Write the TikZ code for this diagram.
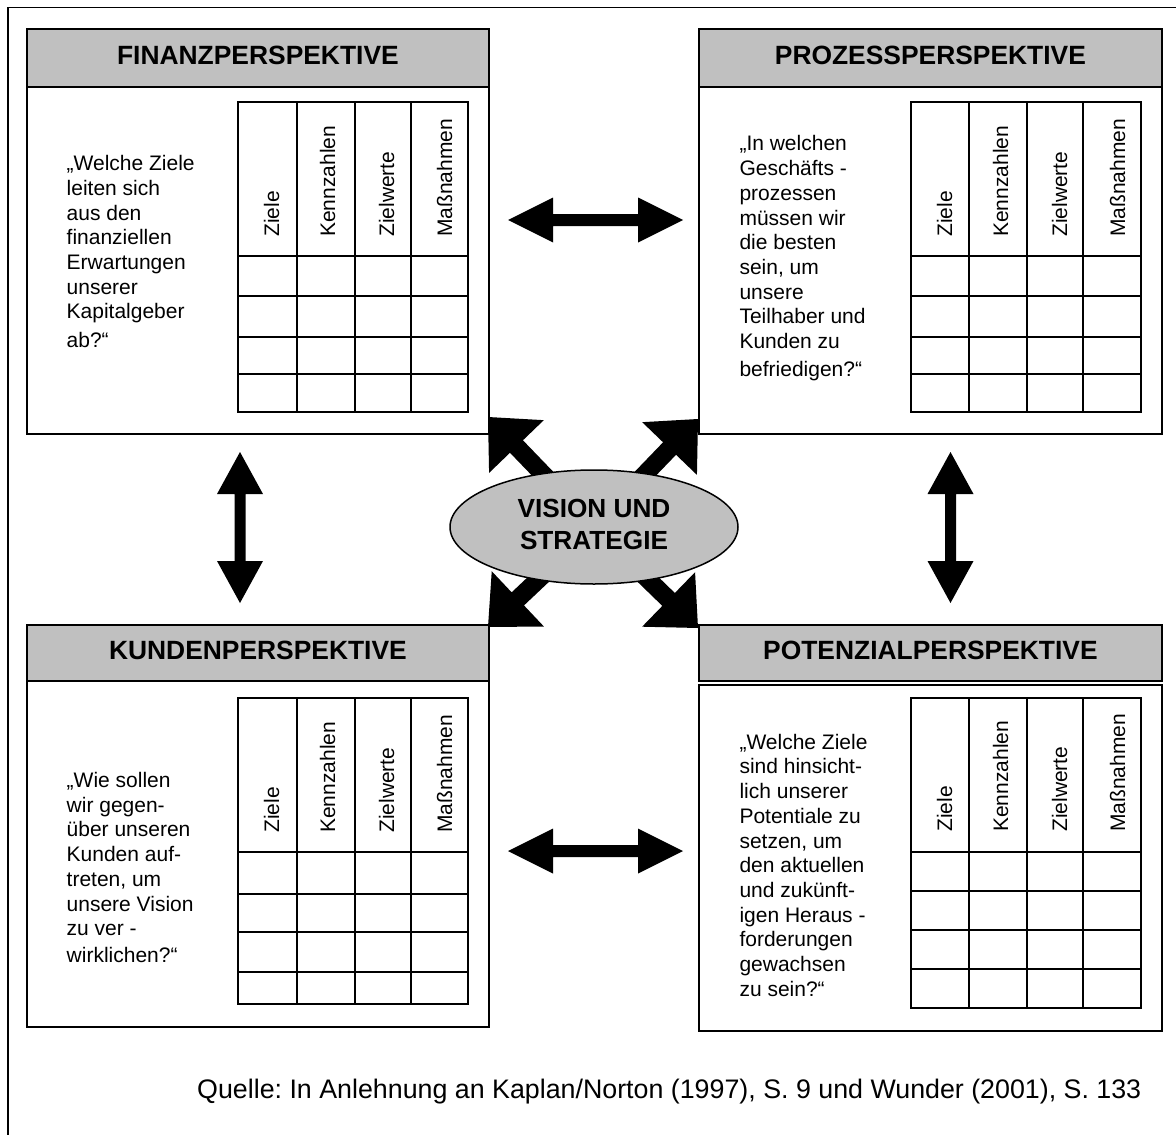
\documentclass[tikz,border=0pt]{standalone}
\usepackage{fontspec}
\setmainfont{Liberation Sans}
\usetikzlibrary{calc,shapes.geometric}
\definecolor{headgrey}{RGB}{192,192,192}
\frenchspacing

\tikzset{
  framerule/.style={line width=1.5pt},
  panel/.style={draw=black, line width=1.8pt, fill=white, inner sep=0pt, anchor=north west},
  headbar/.style={draw=black, line width=1.8pt, fill=headgrey, inner sep=0pt, anchor=north west,
    font=\fontsize{26.4}{30}\selectfont\bfseries, text depth=5pt},
  gridline/.style={line width=1.6pt, line cap=rect},
  question/.style={font=\fontsize{21}{24.7}\selectfont, align=left, anchor=north west, inner sep=0pt},
  collabel/.style={font=\fontsize{21}{24}\selectfont, rotate=90, anchor=base west, inner sep=0pt},
  blockfill/.style={fill=black},
  hubshape/.style={ellipse, draw=black, line width=1.5pt, fill=headgrey, inner sep=0pt,
    minimum width=288pt, minimum height=114pt, align=center,
    font=\fontsize{26.2}{31.7}\selectfont\bfseries},
  sourcenote/.style={anchor=base west, inner sep=0pt, font=\fontsize{26.8}{30}\selectfont},
}

% score-card grid: column xs, row ys, left, right, top, bottom
\newcommand\kpigrid[6]{%
  \foreach \gx in {#1} \draw[gridline] (\gx,#5) -- (\gx,#6);
  \foreach \gy in {#2} \draw[gridline] (#3,\gy) -- (#4,\gy);}

% rotated column headings: prefix, four baseline xs, start y
\newcommand\kpilabels[6]{%
  \node[collabel] (#1-ziele) at (#2,#6) {Ziele};
  \node[collabel] (#1-kennz) at (#3,#6) {Kennzahlen};
  \node[collabel] (#1-zielw) at (#4,#6) {Zielwerte};
  \node[collabel] (#1-mass) at (#5,#6) {Maßnahmen};}

% filled block arrow with heads at both ends
% #1,#2 ends, #3 head length, #4 head half width, #5 shaft half width
\newcommand\dblblock[5]{%
  \coordinate (dbA) at ($(#1)!#3!(#2)$);
  \coordinate (dbB) at ($(#2)!#3!(#1)$);
  \fill[blockfill] (#1) -- ($(dbA)!#4!90:(#2)$) -- ($(dbA)!#5!90:(#2)$)
    -- ($(dbB)!#5!-90:(#1)$) -- ($(dbB)!#4!-90:(#1)$) -- (#2)
    -- ($(dbB)!#4!90:(#1)$) -- ($(dbB)!#5!90:(#1)$)
    -- ($(dbA)!#5!-90:(#2)$) -- ($(dbA)!#4!-90:(#2)$) -- cycle;}

% filled block arrow with one head at #2
\newcommand\sglblock[5]{%
  \coordinate (sbP) at ($(#2)!#3!(#1)$);
  \fill[blockfill] ($(#1)!#5!90:(#2)$) -- ($(sbP)!#5!-90:(#1)$) -- ($(sbP)!#4!-90:(#1)$)
    -- (#2) -- ($(sbP)!#4!90:(#1)$) -- ($(sbP)!#5!90:(#1)$)
    -- ($(#1)!#5!-90:(#2)$) -- cycle;}

\begin{document}
\begin{tikzpicture}[x=1pt, y=-1pt]
\useasboundingbox (0,0) rectangle (1176,1135);

% outer frame
\draw[framerule] (8,1135) -- (8,7.5) -- (1176,7.5);

% the four perspective panels
\node[panel, minimum width=462pt, minimum height=347pt] (finbody) at (26,86) {};
\node[headbar, minimum width=462pt, minimum height=58pt] (finhead) at (26,28) {FINANZPERSPEKTIVE};
\node[panel, minimum width=463pt, minimum height=347pt] (probody) at (698,86) {};
\node[headbar, minimum width=463pt, minimum height=58pt] (prohead) at (698,28) {PROZESSPERSPEKTIVE};
\node[panel, minimum width=462pt, minimum height=346pt] (kunbody) at (26,680) {};
\node[headbar, minimum width=462pt, minimum height=56pt] (kunhead) at (26,624) {KUNDENPERSPEKTIVE};
\node[panel, minimum width=463pt, minimum height=346pt] (potbody) at (698,684) {};
\node[headbar, minimum width=463pt, minimum height=56pt] (pothead) at (698,624) {POTENZIALPERSPEKTIVE};

% score-card tables
\kpigrid{238,297,355,411,468}{102,256,296,337,374,412}{238}{468}{102}{412}
\kpigrid{911,969,1027,1083,1141}{102,256,296,337,374,412}{911}{1141}{102}{412}
\kpigrid{238,297,355,411,468}{698,852,894,932,972,1004}{238}{468}{698}{1004}
\kpigrid{911,969,1027,1083,1141}{698,852,891,930,969,1008}{911}{1141}{698}{1008}

\kpilabels{fin}{279}{335}{394}{452}{237}
\kpilabels{pro}{952}{1008}{1067}{1125}{237}
\kpilabels{kun}{279}{335}{394}{452}{833}
\kpilabels{pot}{952}{1008}{1067}{1125}{832}

% guiding questions
\node[question] (finq) at (66.5,154.5) {\rule{0pt}{16pt}„Welche Ziele\\leiten sich\\aus den\\finanziellen\\Erwartungen\\unserer\\Kapitalgeber\\[3.5pt]ab?“};
\node[question] (proq) at (739.3,134.7) {\rule{0pt}{16pt}„In welchen\\Geschäfts -\\prozessen\\müssen wir\\die besten\\sein, um\\unsere\\Teilhaber und\\Kunden zu\\[3.5pt]befriedigen?“};
\node[question] (kunq) at (66.5,771.3) {\rule{0pt}{16pt}„Wie sollen\\wir gegen-\\über unseren\\Kunden auf-\\treten, um\\unsere Vision\\zu ver -\\[2pt]wirklichen?“};
\node[question] (potq) at (739.3,733) {\rule{0pt}{16pt}„Welche Ziele\\sind hinsicht-\\lich unserer\\Potentiale zu\\setzen, um\\den aktuellen\\und zukünft-\\igen Heraus -\\forderungen\\gewachsen\\zu sein?“};

% arrow end points
\coordinate (hub) at (594,527);
\coordinate (topL) at (508,220);   \coordinate (topR) at (683,220);
\coordinate (botL) at (508,851);   \coordinate (botR) at (683,851);
\coordinate (leftT) at (240,452);  \coordinate (leftB) at (240,603);
\coordinate (rightT) at (950.5,452); \coordinate (rightB) at (950.5,603);
\coordinate (tipFin) at (488,417); \coordinate (tipPro) at (698,419);
\coordinate (tipKun) at (488,627); \coordinate (tipPot) at (698,628);

% links between neighbouring perspectives
\dblblock{topL}{topR}{45pt}{22.5pt}{6pt}
\dblblock{botL}{botR}{45pt}{22.5pt}{6pt}
\dblblock{leftT}{leftB}{42pt}{23pt}{5.5pt}
\dblblock{rightT}{rightB}{42pt}{23pt}{5.5pt}

% links from vision and strategy to each perspective
\sglblock{hub}{tipFin}{41pt}{38pt}{9pt}
\sglblock{hub}{tipPro}{41pt}{38pt}{9pt}
\sglblock{hub}{tipKun}{41pt}{38pt}{9pt}
\sglblock{hub}{tipPot}{41pt}{38pt}{9pt}

\node[hubshape] (vision) at (hub) {VISION UND\\STRATEGIE\vphantom{g}};

\node[sourcenote] (source) at (197,1098) {Quelle: In Anlehnung an Kaplan/Norton (1997), S. 9 und Wunder (2001), S. 133};
\end{tikzpicture}
\end{document}
